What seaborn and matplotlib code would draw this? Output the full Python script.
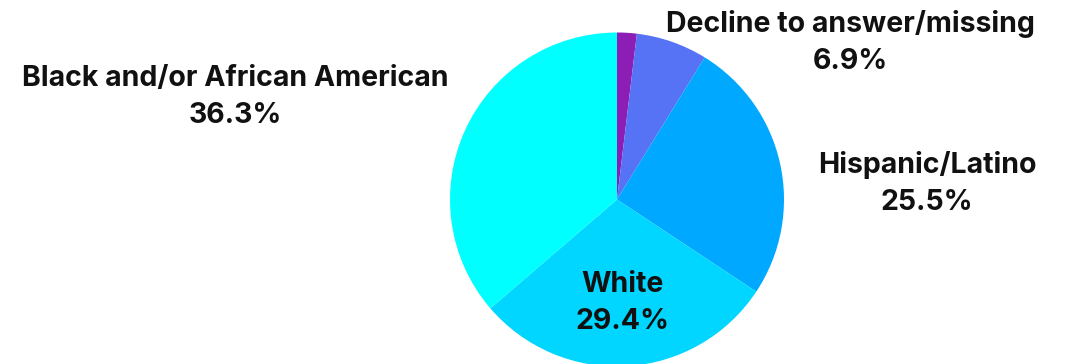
import matplotlib
matplotlib.use("Agg")
import matplotlib.pyplot as plt
import seaborn as sns

# Race / ethnicity breakdown (percent of respondents)
categories = [
    "Other",
    "Decline to answer/missing",
    "Hispanic/Latino",
    "White",
    "Black and/or African American",
]
shares = [1.9, 6.9, 25.5, 29.4, 36.3]
slice_colors = ["#8C1DB5", "#5672F5", "#00A8FF", "#00D6FF", "#00FFFF"]
shown_labels = ["", "Decline to answer/missing", "Hispanic/Latino", "White",
                "Black and/or African American"]

sns.set_theme(style="white")
plt.rcParams["font.family"] = ["Inter", "DejaVu Sans"]

W, H = 1066, 364
fig = plt.figure(figsize=(W / 100, H / 100), dpi=100)
fig.patch.set_facecolor("white")

cx, cy, r = 617, 199.5, 167
ax = fig.add_axes([(cx - r) / W, (H - cy - r) / H, 2 * r / W, 2 * r / H])
ax.set_axis_off()

ax.pie(
    shares,
    colors=sns.color_palette(slice_colors),
    startangle=90,
    counterclock=False,
    radius=1,
    center=(0, 0),
    wedgeprops=dict(linewidth=0),
    frame=False,
)
ax.set_xlim(-1, 1)
ax.set_ylim(-1, 1)
ax.set_aspect("auto")

# label anchor points (pie-radius units)
label_pos = {
    "Decline to answer/missing": (1.395, 0.94),
    "Hispanic/Latino": (1.856, 0.095),
    "White": (0.03, -0.62),
    "Black and/or African American": (-2.287, 0.615),
}
for name, val in zip(shown_labels, shares):
    if not name:
        continue
    x, y = label_pos[name]
    ax.text(x, y, f"{name}\n{val:.1f}%", ha="center", va="center",
            fontsize=20.5, fontweight="bold", color="#111111",
            linespacing=1.5, clip_on=False)

fig.savefig("out.png", dpi=100, facecolor="white")
